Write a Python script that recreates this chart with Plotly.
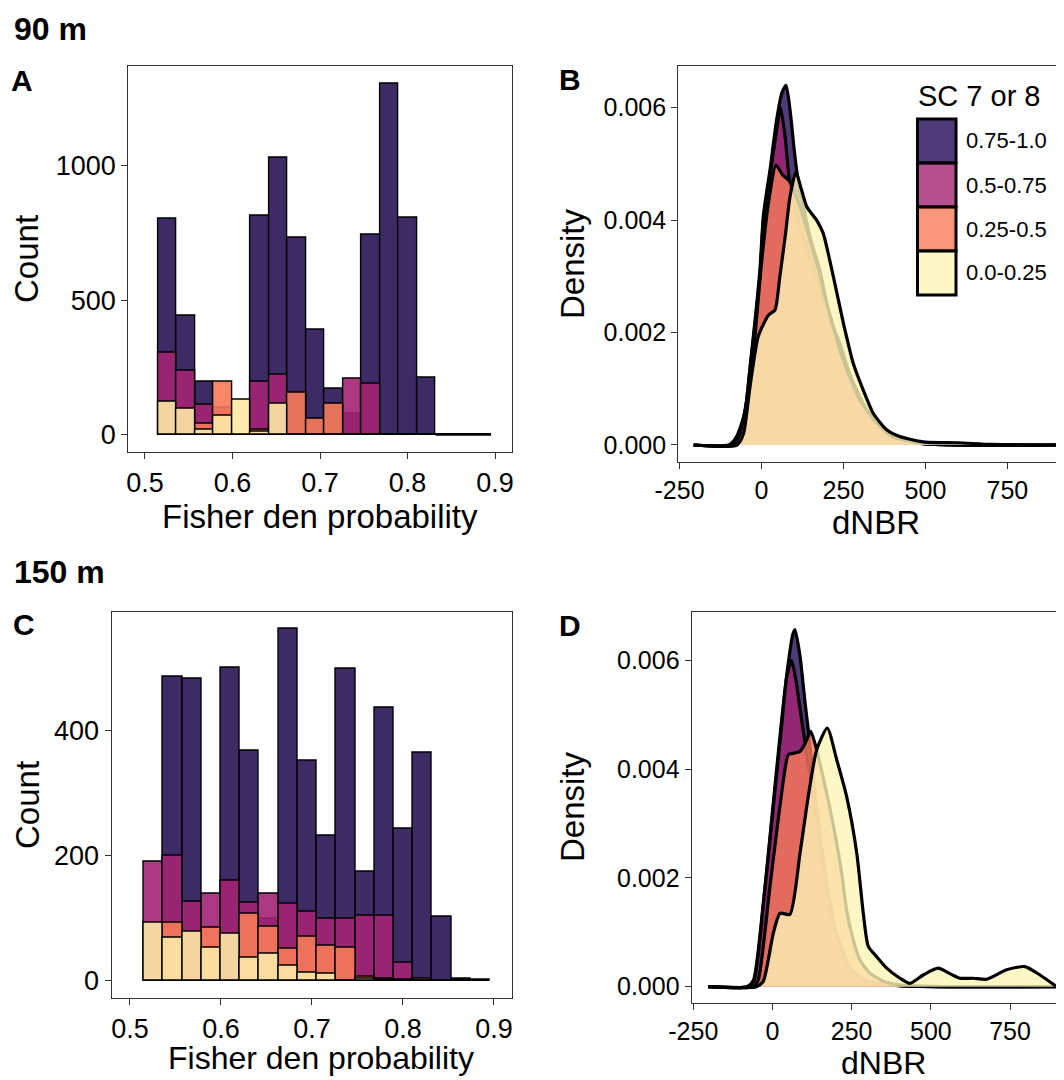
import plotly.graph_objects as go

# the page body has an 8px margin, so the figure is sized to the visible area
OX, OY = 8, 8
W, H = 1064 - OX, 1080 - OY
FONT = "Liberation Sans, Arial, sans-serif"

# groups, in drawing order (first drawn at the bottom)
groups = ["0.75-1.0", "0.5-0.75", "0.25-0.5", "0.0-0.25"]
base_rgb = [(35, 10, 86), (162, 36, 115), (247, 122, 89), (252, 245, 184)]
hist_rgb = [(40, 20, 85), (162, 36, 115), (247, 122, 89), (254, 232, 166)]

# histogram bins (Fisher den probability)
bin_mid = [0.5258, 0.5469, 0.5680, 0.5891, 0.6103, 0.6314, 0.6525, 0.6736, 0.6948,
           0.7159, 0.7370, 0.7581, 0.7793, 0.8004, 0.8215, 0.8426, 0.8638, 0.8849]
bin_width = 0.0211
prob_ticks = [0.5, 0.6, 0.7, 0.8, 0.9]

# 90 m counts
h90_q4 = [801, 441, 198, 0, 0, 815, 1027, 731, 389, 172, 77, 741, 1305, 807, 212, 0, 0, 0]
h90_q3 = [305, 237, 110, 100, 0, 198, 222, 0, 0, 0, 210, 190, 0, 0, 0, 0, 0, 0]
h90_q2 = [0, 0, 40, 198, 0, 20, 0, 157, 60, 117, 0, 0, 0, 0, 0, 0, 0, 0]
h90_q1 = [122, 97, 18, 70, 132, 10, 117, 0, 0, 0, 0, 0, 0, 0, 0, 0, 0, 0]

# 150 m counts
h150_q4 = [0, 487, 483, 0, 501, 368, 99, 563, 352, 233, 500, 174, 438, 243, 366, 103, 3, 1.5]
h150_q3 = [190, 200, 127, 139, 160, 125, 139, 124, 110, 100, 99, 104, 105, 29, 0, 0, 0, 0]
h150_q2 = [0, 93, 0, 85, 0, 108, 87, 51, 70, 56, 53, 7, 4, 2, 3, 0, 0, 0]
h150_q1 = [93, 69, 78, 53, 75, 37, 44, 25, 13, 12, 0, 3, 2, 0, 0, 0, 0, 0]

# dNBR ticks
dnbr_ticks = [-250, 0, 250, 500, 750]
dnbr_labels = ["-250", "0", "250", "500", "750"]
dens_ticks = [0, 0.002, 0.004, 0.006]

# dNBR densities, 90 m
b_x_q4 = [-207, -100, -76, -50, -36, -20, -5, 6, 26, 46, 62, 75, 87, 102, 112, 148, 178,
          199, 219, 239, 265, 290, 321, 361, 420, 500, 905]
b_y_q4 = [0, 0, 0.00015, 0.0006, 0.00133, 0.0022, 0.0031, 0.0041, 0.0049, 0.00578, 0.00626,
          0.0064, 0.00596, 0.00513, 0.00471, 0.0037, 0.00311, 0.00252, 0.0021, 0.00181,
          0.00133, 0.00098, 0.00062, 0.00027, 0.00008, 0.00002, 0]
b_x_q3 = [-207, -90, -72, -50, -36, -5, 6, 26, 46, 58, 72, 85, 110, 150, 200, 250, 300,
          350, 400, 500, 905]
b_y_q3 = [0, 0, 0.00015, 0.0006, 0.0013, 0.003, 0.004, 0.0048, 0.0056, 0.006, 0.00548,
          0.00471, 0.004, 0.0033, 0.0024, 0.0015, 0.0008, 0.0004, 0.00015, 0.00002, 0]
b_x_q2 = [-207, -85, -66, -45, -25, 0, 21, 44, 65, 85, 125, 150, 175, 200, 250, 300, 350,
          400, 500, 905]
b_y_q2 = [0, 0, 0.0002, 0.0008, 0.00163, 0.00323, 0.0043, 0.00498, 0.0048, 0.0047, 0.0041,
          0.0036, 0.0031, 0.0025, 0.0015, 0.0008, 0.0004, 0.00015, 0.00002, 0]
b_x_q1 = [-207, -75, -55, -35, -10, 21, 41, 56, 72, 87, 105, 122, 138, 168, 188, 219, 250,
          280, 310, 341, 382, 422, 500, 600, 700, 905]
b_y_q1 = [0, 0, 0.0002, 0.00104, 0.00193, 0.00231, 0.0024, 0.003, 0.0037, 0.00442, 0.00486,
          0.00454, 0.00424, 0.004, 0.00377, 0.003, 0.00216, 0.00145, 0.00098, 0.00056,
          0.00027, 0.00015, 0.00005, 0.00004, 0.00001, 0]

# dNBR densities, 150 m
d_x_q4 = [-203, -80, -60, -29, 2.5, 29, 50, 64, 71, 87, 103, 113, 130, 150, 175, 200, 250,
          300, 400, 897]
d_y_q4 = [0, 0, 0.00012, 0.00153, 0.00338, 0.00491, 0.00596, 0.00648, 0.00657, 0.00608,
          0.00522, 0.00473, 0.0038, 0.0028, 0.0018, 0.001, 0.0003, 0.0001, 0.00002, 0]
d_x_q3 = [-203, -78, -58, -29, 2.5, 29, 45, 60.5, 75, 92, 110, 130, 150, 175, 200, 250, 300,
          400, 897]
d_y_q3 = [0, 0, 0.00012, 0.0015, 0.0033, 0.0048, 0.0057, 0.006, 0.0056, 0.00491, 0.0042,
          0.0034, 0.0026, 0.0017, 0.001, 0.0003, 0.0001, 0.00002, 0]
d_x_q2 = [-203, -60, -45, -8, 18, 39.5, 50, 70, 87, 105, 120.5, 139.5, 171, 197, 218.5, 234,
          255, 276, 308, 350, 420, 897]
d_y_q2 = [0, 0, 0.00012, 0.00184, 0.00307, 0.004, 0.00427, 0.0043, 0.00433, 0.0045, 0.0047,
          0.00436, 0.00356, 0.00282, 0.00209, 0.00141, 0.00086, 0.00049, 0.00025, 0.0001,
          0.00002, 0]
d_x_q1 = [-203, -50, -29, 2.5, 23.7, 55, 87, 113, 139.5, 173, 202.6, 234, 266, 286.7, 302.5,
          329, 360.5, 402.5, 434, 476, 523, 560, 592, 634, 676, 739, 797, 844.5, 897]
d_y_q1 = [0, 0, 0.0001, 0.00098, 0.00135, 0.00133, 0.00246, 0.0035, 0.00436, 0.00476, 0.00418,
          0.0035, 0.00246, 0.00135, 0.00074, 0.00055, 0.00034, 0.000155, 0.00006, 0.000215,
          0.00034, 0.00024, 0.000155, 0.000155, 0.000136, 0.00031, 0.00037, 0.000215, 0]


def rgba(rgb, a):
    return "rgba(%d,%d,%d,%.2f)" % (rgb[0], rgb[1], rgb[2], a)


# page pixels -> paper coordinates
def px(x):
    return (x - OX) / W


def py(y):
    return 1 - (y - OY) / H


fig = go.Figure()

hist_sets = [("x", "y", [h90_q4, h90_q3, h90_q2, h90_q1]),
             ("x3", "y3", [h150_q4, h150_q3, h150_q2, h150_q1])]
for xa, ya, counts in hist_sets:
    for i, vals in enumerate(counts):
        fig.add_trace(go.Bar(
            x=bin_mid, y=vals, width=bin_width, xaxis=xa, yaxis=ya,
            marker=dict(color=rgba(hist_rgb[i], 0.9), line=dict(color="black", width=1.4)),
            name=groups[i], showlegend=False))
    # empty bins are drawn as a flat line at zero
    empty = [j for j in range(len(bin_mid)) if sum(c[j] for c in counts) == 0]
    if empty:
        fig.add_trace(go.Scatter(
            x=[bin_mid[empty[0]] - bin_width / 2, bin_mid[empty[-1]] + bin_width / 2],
            y=[0, 0], mode="lines", xaxis=xa, yaxis=ya,
            line=dict(color="black", width=1.8), showlegend=False, hoverinfo="skip"))

dens_sets = [("x2", "y2", [(b_x_q4, b_y_q4), (b_x_q3, b_y_q3), (b_x_q2, b_y_q2), (b_x_q1, b_y_q1)]),
             ("x4", "y4", [(d_x_q4, d_y_q4), (d_x_q3, d_y_q3), (d_x_q2, d_y_q2), (d_x_q1, d_y_q1)])]
for xa, ya, curves in dens_sets:
    for i, (xs, ys) in enumerate(curves):
        fig.add_trace(go.Scatter(
            x=xs, y=ys, xaxis=xa, yaxis=ya, mode="lines", fill="tozeroy",
            fillcolor=rgba(base_rgb[i], 0.8),
            line=dict(color="black", width=3.2, shape="spline", smoothing=0.6),
            name=groups[i], showlegend=False))

axis_common = dict(showgrid=False, zeroline=False, showline=True, linecolor="#333333",
                   linewidth=1.3, ticks="outside", ticklen=6, tickwidth=1.2,
                   tickcolor="#333333", color="black", automargin=False)

left_tick = dict(family=FONT, size=27, color="black")
right_tick = dict(family=FONT, size=25, color="black")

fig.update_layout(
    width=W, height=H, margin=dict(l=0, r=0, t=0, b=0, pad=0), autosize=False,
    paper_bgcolor="white", plot_bgcolor="white", barmode="overlay", bargap=0,
    showlegend=False, font=dict(family=FONT, color="black"),
    xaxis=dict(axis_common, domain=[px(128.3), px(511.7)], range=[0.481, 0.919],
               tickvals=prob_ticks, tickformat=".1f", tickfont=left_tick,
               mirror=True, anchor="y"),
    yaxis=dict(axis_common, domain=[py(452.3), py(65.7)], range=[-65, 1370],
               tickvals=[0, 500, 1000], tickfont=left_tick, mirror=True, anchor="x"),
    xaxis2=dict(axis_common, domain=[px(678.3), 1.0], range=[-253.8, 922.6],
                tickvals=dnbr_ticks, ticktext=dnbr_labels, tickfont=right_tick,
                mirror=True, anchor="y2"),
    yaxis2=dict(axis_common, domain=[py(462.3), py(65.7)], range=[-0.000308, 0.006748],
                tickvals=dens_ticks, tickformat=".3f", tickfont=right_tick, anchor="x2"),
    xaxis3=dict(axis_common, domain=[px(111.7), px(511.7)], range=[0.4799, 0.9195],
                tickvals=prob_ticks, tickformat=".1f", tickfont=left_tick,
                mirror=True, anchor="y3"),
    yaxis3=dict(axis_common, domain=[py(998.3), py(611.7)], range=[-28, 591],
                tickvals=[0, 200, 400], tickfont=left_tick, mirror=True, anchor="x3"),
    xaxis4=dict(axis_common, domain=[px(691.7), 1.0], range=[-255, 920.3],
                tickvals=dnbr_ticks, ticktext=dnbr_labels, tickfont=right_tick,
                mirror=True, anchor="y4"),
    yaxis4=dict(axis_common, domain=[py(1003.3), py(611.7)], range=[-0.000306, 0.0069],
                tickvals=dens_ticks, tickformat=".3f", tickfont=right_tick, anchor="x4"),
)


def label(text, x, y, size, bold=False, angle=0, xanchor="center"):
    fig.add_annotation(
        text="<b>%s</b>" % text if bold else text, x=px(x), y=py(y),
        xref="paper", yref="paper", xanchor=xanchor, yanchor="middle",
        showarrow=False, textangle=angle, font=dict(family=FONT, size=size, color="black"))


# section and panel labels
label("90 m", 12, 29, 32, bold=True, xanchor="left")
label("150 m", 12, 572, 32, bold=True, xanchor="left")
label("A", 9, 81, 30, bold=True, xanchor="left")
label("B", 557, 80, 30, bold=True, xanchor="left")
label("C", 11, 624, 30, bold=True, xanchor="left")
label("D", 557, 625, 30, bold=True, xanchor="left")

# axis titles
label("Count", 27, 259, 33, angle=-90)
label("Count", 27, 805, 33, angle=-90)
label("Density", 572, 264, 33, angle=-90)
label("Density", 572, 807, 33, angle=-90)
label("Fisher den probability", 320, 516, 33)
label("Fisher den probability", 321, 1058, 32)
label("dNBR", 876, 522, 33)
label("dNBR", 883, 1063, 32)

# legend inside panel B
label("SC 7 or 8", 916, 96, 29, xanchor="left")
key_top, key_h = 119, 44
for i, g in enumerate(groups):
    y0 = key_top + i * key_h
    fig.add_shape(type="rect", xref="paper", yref="paper",
                  x0=px(917.5), x1=px(956), y0=py(y0), y1=py(y0 + key_h),
                  fillcolor=rgba(base_rgb[i], 0.8), line=dict(color="black", width=3))
    label(g, 964, y0 + key_h / 2, 22, xanchor="left")

fig.write_html("out.html")
